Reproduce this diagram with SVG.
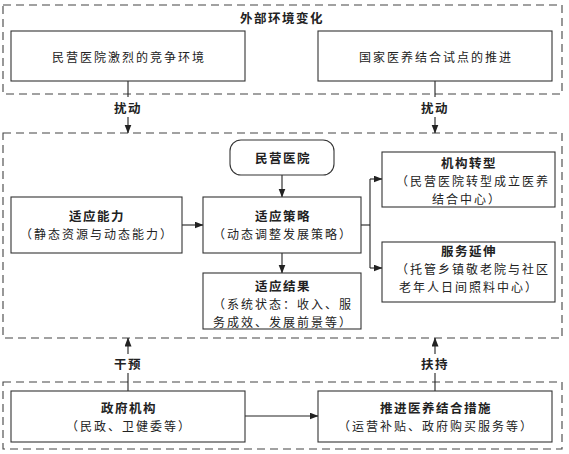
<svg xmlns="http://www.w3.org/2000/svg" width="569" height="454" viewBox="0 0 569 454">
<defs>
<marker id="ah" markerWidth="9" markerHeight="8" refX="8.5" refY="3.5" orient="auto" markerUnits="userSpaceOnUse">
<path d="M0,0 L9,3.5 L0,7 z" fill="#222"/>
</marker>
<style>
text{font-family:"Noto Sans CJK SC","Noto Sans",sans-serif;font-size:12px;fill:#222;text-anchor:middle;dominant-baseline:central;letter-spacing:2px}
.b{font-weight:bold;font-size:12.5px;letter-spacing:1.5px}
.box{fill:#fff;stroke:#333;stroke-width:1.1}
.dash{fill:none;stroke:#444;stroke-width:1.1;stroke-dasharray:8 5}
.ln{fill:none;stroke:#222;stroke-width:1.1}
.ar{fill:none;stroke:#222;stroke-width:1.1;marker-end:url(#ah)}
</style>
</defs>
<rect width="569" height="454" fill="#fff"/>
<g id="groups">
<rect class="dash" x="3" y="5" width="559" height="89"/>
<rect class="dash" x="3" y="133" width="559" height="205"/>
<rect class="dash" x="3" y="382" width="559" height="67"/>
<text class="b" x="282" y="17">外部环境变化</text>
</g>
<g id="connectors">
<line class="ln" x1="128" y1="81" x2="128" y2="97"/>
<line class="ar" x1="128" y1="117" x2="128" y2="133"/>
<text class="b" x="128" y="107">扰动</text>
<line class="ln" x1="435" y1="81" x2="435" y2="97"/>
<line class="ar" x1="435" y1="117" x2="435" y2="133"/>
<text class="b" x="435" y="107">扰动</text>
<line class="ln" x1="128" y1="391" x2="128" y2="373"/>
<line class="ar" x1="128" y1="354" x2="128" y2="338"/>
<text class="b" x="128" y="363">干预</text>
<line class="ln" x1="435" y1="391" x2="435" y2="373"/>
<line class="ar" x1="435" y1="354" x2="435" y2="338"/>
<text class="b" x="435" y="363">扶持</text>
<line class="ar" x1="182" y1="225" x2="203" y2="225"/>
<line class="ar" x1="282" y1="175" x2="282" y2="197"/>
<line class="ar" x1="282" y1="253" x2="282" y2="273"/>
<polyline class="ln" points="361,225 370,225"/>
<line class="ln" x1="370" y1="179" x2="370" y2="268"/>
<line class="ar" x1="370" y1="179" x2="382" y2="179"/>
<line class="ar" x1="370" y1="268" x2="382" y2="268"/>
<line class="ar" x1="245" y1="416" x2="318" y2="416"/>
</g>
<g id="n-compete">
<rect class="box" x="11" y="31" width="234" height="50"/>
<text x="129" y="56">民营医院激烈的竞争环境</text>
</g>
<g id="n-pilot">
<rect class="box" x="318" y="31" width="234" height="50"/>
<text x="436" y="56">国家医养结合试点的推进</text>
</g>
<g id="n-hospital">
<rect class="box" x="230" y="140" width="104" height="35" rx="11"/>
<text class="b" x="283" y="157">民营医院</text>
</g>
<g id="n-ability">
<rect class="box" x="11" y="197" width="171" height="56"/>
<text class="b" x="97" y="215">适应能力</text>
<text x="97" y="233">（静态资源与动态能力）</text>
</g>
<g id="n-strategy">
<rect class="box" x="203" y="197" width="158" height="56"/>
<text class="b" x="283" y="215">适应策略</text>
<text x="283" y="233">（动态调整发展策略）</text>
</g>
<g id="n-result">
<rect class="box" x="203" y="273" width="158" height="56"/>
<text class="b" x="283" y="285">适应结果</text>
<text x="283" y="303">（系统状态：收入、服</text>
<text x="283" y="321">务成效、发展前景等）</text>
</g>
<g id="n-transform">
<rect class="box" x="382" y="152" width="173" height="55"/>
<text class="b" x="469" y="162">机构转型</text>
<text x="473" y="180">（民营医院转型成立医养</text>
<text x="467" y="198">结合中心）</text>
</g>
<g id="n-extend">
<rect class="box" x="382" y="242" width="173" height="60"/>
<text class="b" x="469" y="250">服务延伸</text>
<text x="473" y="268">（托管乡镇敬老院与社区</text>
<text x="469" y="286">老年人日间照料中心）</text>
</g>
<g id="n-gov">
<rect class="box" x="11" y="391" width="234" height="51"/>
<text class="b" x="129" y="407">政府机构</text>
<text x="129" y="425">（民政、卫健委等）</text>
</g>
<g id="n-measures">
<rect class="box" x="318" y="391" width="234" height="51"/>
<text class="b" x="436" y="407">推进医养结合措施</text>
<text x="436" y="425">（运营补贴、政府购买服务等）</text>
</g>
</svg>
